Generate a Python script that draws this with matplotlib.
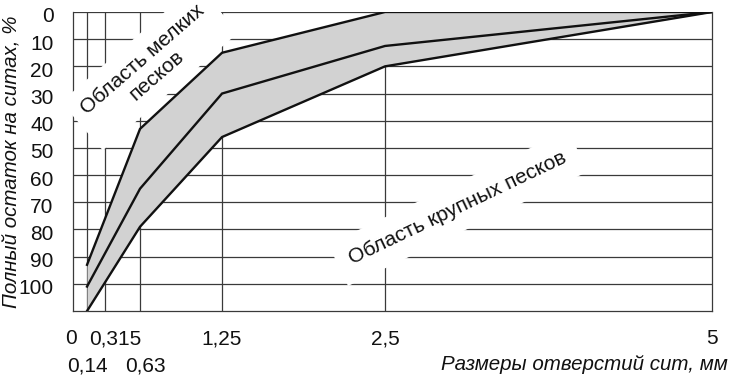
import numpy as np
import matplotlib.pyplot as plt
from matplotlib.transforms import ScaledTranslation

plt.rcParams['font.family'] = ['Liberation Sans', 'DejaVu Sans']

# sieve sizes, mm
sieve = [0, 0.14, 0.315, 0.63, 1.25, 2.5, 5]
# the drawing does not space the sieves linearly: relative spacing on the axis
sieve_spacing = [0, 14, 32, 67, 149, 312, 639]

# grading curves: total residue on sieves, %
x_curve = [0.14, 0.63, 1.25, 2.5, 5]
fine_line = [93, 43, 15, 0, 0]
mid_line = [101, 65, 30, 12.5, 0]
coarse_line = [110, 79, 46, 20, 0]

y_ticks = list(range(0, 101, 10))
x_major = [0, 0.315, 1.25, 2.5, 5]
x_major_labels = ['0', '0,315', '1,25', '2,5', '5']
x_minor = [0.14, 0.63]
x_minor_labels = ['0,14', '0,63']


def fwd(x):
    return np.interp(x, sieve, sieve_spacing)


def inv(p):
    return np.interp(p, sieve_spacing, sieve)


grid_col = '#3a3a3a'
txt_col = '#111111'

fig = plt.figure(figsize=(7.31, 3.78), dpi=100)
ax = fig.add_axes([0.0999, 0.1772, 0.8742, 0.7911])
ax.set_xscale('function', functions=(fwd, inv))
ax.set_xlim(0, 5)
ax.set_ylim(110, 0)

# grid
for v in y_ticks:
    ax.axhline(v, color=grid_col, lw=0.9, zorder=1)
for v in sieve[1:-1]:
    ax.axvline(v, color=grid_col, lw=0.9, zorder=1)
ax.spines['top'].set_visible(False)
for s in ['left', 'right', 'bottom']:
    ax.spines[s].set_color(grid_col)
    ax.spines[s].set_linewidth(0.9)
    ax.spines[s].set_zorder(1)

# grading zone
ax.fill_between(x_curve, fine_line, coarse_line, color='#d2d2d2', zorder=3, lw=0)
for ys in [fine_line, mid_line, coarse_line]:
    ax.plot(x_curve, ys, color='#111111', lw=1.7, zorder=4, solid_joinstyle='miter')

# region labels (white box breaks the grid like in the drawing)
ax.text(0.12, 0.815, 'Область мелких\nпесков', transform=ax.transAxes,
        rotation=41, ha='center', va='center', multialignment='center',
        fontsize=15, linespacing=1.2, color=txt_col, zorder=2,
        rotation_mode='anchor',
        bbox=dict(boxstyle='square,pad=0.55', fc='white', ec='none'))
ax.text(0.6025, 0.3445, 'Область крупных песков', transform=ax.transAxes,
        rotation=25.5, ha='center', va='center', fontsize=15,
        color=txt_col, zorder=2, rotation_mode='anchor',
        bbox=dict(boxstyle='square,pad=0.65', fc='white', ec='none'))

# ticks
ax.set_yticks(y_ticks)
ax.tick_params(axis='y', length=0, pad=14, labelsize=15, labelcolor=txt_col)
ax.set_xticks(x_major, labels=x_major_labels)
ax.set_xticks(x_minor, labels=x_minor_labels, minor=True)
ax.tick_params(axis='x', which='major', length=0, pad=13, labelsize=15, labelcolor=txt_col)
ax.tick_params(axis='x', which='minor', length=0, pad=33, labelsize=15, labelcolor=txt_col)
ax.yaxis.set_zorder(5)
ax.xaxis.set_zorder(5)

for lbl in ax.get_yticklabels():
    lbl.set_transform(lbl.get_transform() + ScaledTranslation(0, -0.03, fig.dpi_scale_trans))
shift_x = {'0': -0.02, '0,315': 0.10}
for lbl in ax.get_xticklabels():
    dx = shift_x.get(lbl.get_text(), 0)
    lbl.set_transform(lbl.get_transform() + ScaledTranslation(dx, 0, fig.dpi_scale_trans))
for lbl in ax.get_xticklabels(minor=True):
    dx = 0.05 if lbl.get_text() == '0,63' else 0
    lbl.set_transform(lbl.get_transform() + ScaledTranslation(dx, 0, fig.dpi_scale_trans))

fig.text(12 / 731, 1 - 162 / 378, 'Полный остаток на ситах, %', rotation=90,
         ha='center', va='center', fontsize=14.8, style='italic', color=txt_col)
fig.text(728 / 731, 1 - 365 / 378, 'Размеры отверстий сит, мм', ha='right',
         va='center', fontsize=14.8, style='italic', color=txt_col)

fig.savefig('out.png', dpi=100)
